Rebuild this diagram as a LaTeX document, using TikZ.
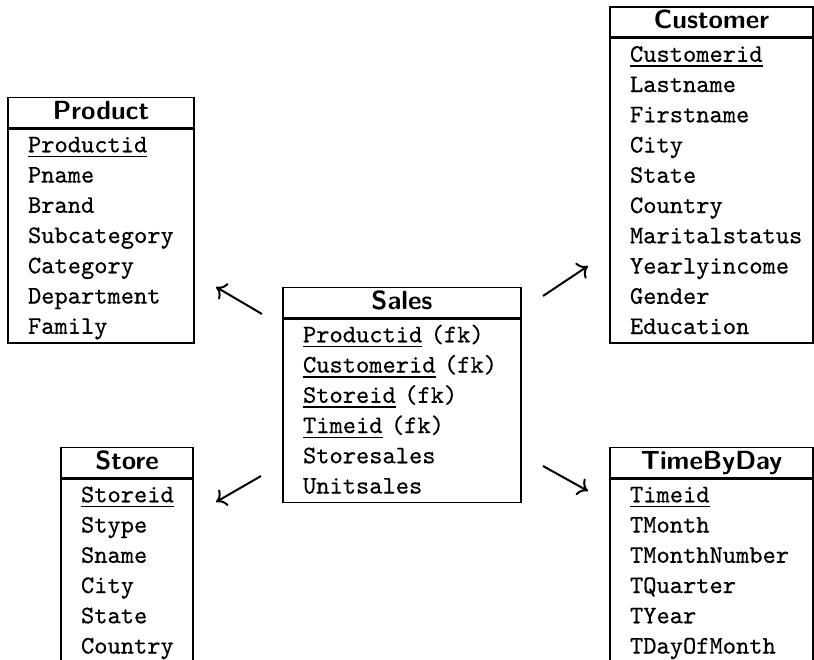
\documentclass[tikz,border=0pt]{standalone}
\usepackage{fontspec}
\newfontfamily\monof{Latin Modern Mono}[FakeBold=0.45]
\usetikzlibrary{arrows.meta}
\newsavebox\keybox
\newcommand\rs{\rule[-3.2pt]{0pt}{12.1pt}}
\newcommand\keyf[1]{\sbox\keybox{#1}\rlap{\rule[-2pt]{\wd\keybox}{0.55pt}}\usebox\keybox}
\begin{document}
\begin{tikzpicture}[x=0.4pt,y=-0.4pt,
  hdr/.style={draw,line width=0.6pt,minimum height=12pt,inner sep=0pt,text height=7.2pt,text depth=2pt,font=\sffamily\bfseries\fontsize{10.5}{12}\selectfont},
  body/.style={draw,line width=0.6pt,anchor=north,inner xsep=8pt,inner ysep=0.4pt,align=left,font=\monof\fontsize{10.1}{12.1}\selectfont},
  link/.style={line width=0.8pt,-{To[length=3.8pt,width=7.5pt]}}]
\clip (0,0) rectangle (814,660);
\useasboundingbox (0,0) rectangle (814,660);
% Product
\node[hdr,minimum width=74.4pt] (product) at (101,112.5) {Product};
\node[body,text width=58.4pt] (productb) at (product.south) {\rs\keyf{Productid}\\ \rs Pname\\ \rs Brand\\ \rs Subcategory\\ \rs Category\\ \rs Department\\ \rs Family};
% Customer
\node[hdr,minimum width=81.2pt] (customer) at (711.5,22) {Customer};
\node[body,text width=65.2pt] (customerb) at (customer.south) {\rs\keyf{Customerid}\\ \rs Lastname\\ \rs Firstname\\ \rs City\\ \rs State\\ \rs Country\\ \rs Maritalstatus\\ \rs Yearlyincome\\ \rs Gender\\ \rs Education};
% Sales
\node[hdr,minimum width=95.2pt] (sales) at (402,302.5) {Sales};
\node[body,text width=79.2pt] (salesb) at (sales.south) {\rs\keyf{Productid} (fk)\\ \rs\keyf{Customerid} (fk)\\ \rs\keyf{Storeid} (fk)\\ \rs\keyf{Timeid} (fk)\\ \rs Storesales\\ \rs Unitsales};
% Store
\node[hdr,minimum width=52.8pt] (store) at (127,462.5) {Store};
\node[body,text width=36.8pt] (storeb) at (store.south) {\rs\keyf{Storeid}\\ \rs Stype\\ \rs Sname\\ \rs City\\ \rs State\\ \rs Country};
% TimeByDay
\node[hdr,minimum width=81.2pt] (time) at (711.5,462.5) {TimeByDay};
\node[body,text width=65.2pt] (timeb) at (time.south) {\rs\keyf{Timeid}\\ \rs TMonth\\ \rs TMonthNumber\\ \rs TQuarter\\ \rs TYear\\ \rs TDayOfMonth};
% arrows
\coordinate (pa) at (262,314); \coordinate (pb) at (216,287);
\coordinate (ca) at (543,296); \coordinate (cb) at (588,266);
\coordinate (sa) at (261,476); \coordinate (sb) at (216,502);
\coordinate (ta) at (543,466); \coordinate (tb) at (588,491);
\draw[link] (pa) -- (pb);
\draw[link] (ca) -- (cb);
\draw[link] (sa) -- (sb);
\draw[link] (ta) -- (tb);
\end{tikzpicture}
\end{document}
